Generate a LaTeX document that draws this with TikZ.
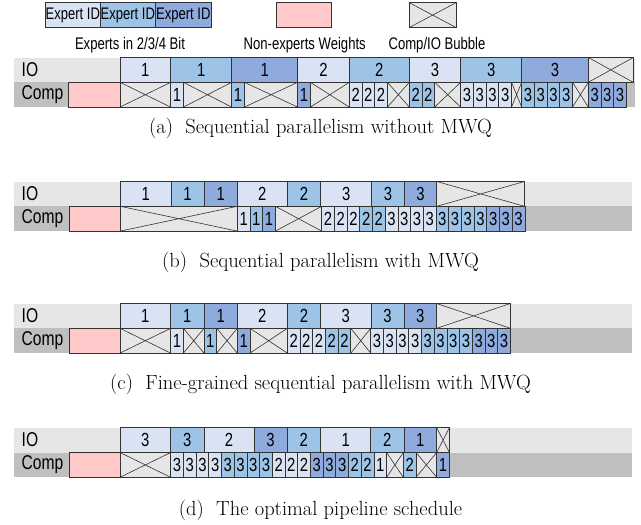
\documentclass[tikz,border=0pt]{standalone}
\usepackage{fontspec}
\newfontfamily\sansf[FakeStretch=0.78]{Liberation Sans}
\definecolor{cL}{HTML}{DAE3F3}
\definecolor{cM}{HTML}{9DC3E6}
\definecolor{cD}{HTML}{8FAADC}
\definecolor{cP}{HTML}{FFC9C9}
\definecolor{cB}{HTML}{E6E6E6}
\definecolor{bandIO}{HTML}{E6E6E6}
\definecolor{bandC}{HTML}{BFBFBF}
\tikzset{
  cell/.style={draw=black!80, line width=0.7pt, anchor=north west, inner sep=0pt, outer sep=0pt,
    minimum height=24.8pt, font=\sansf\fontsize{19}{19}\selectfont},
  lt/.style={cell, fill=cL},
  md/.style={cell, fill=cM},
  dk/.style={cell, fill=cD},
  pinkbox/.style={cell, fill=cP},
  bub/.style={cell, fill=cB, path picture={\draw[line width=0.6pt]
    (path picture bounding box.north west) -- (path picture bounding box.south east)
    (path picture bounding box.south west) -- (path picture bounding box.north east);}},
  rowlab/.style={anchor=west, inner sep=0pt, font=\sansf\fontsize{20}{20}\selectfont},
  legtext/.style={inner sep=0pt, font=\sansf\fontsize{16.8}{17}\selectfont},
  captext/.style={inner sep=0pt, font=\fontsize{20.5}{22}\selectfont},
}
\newcommand\cel[6]{\node[#2, minimum width={#4pt-#3pt}] (#1) at (#3,#5) {#6};}
\newcommand\run[6]{\foreach \k in {1,...,#4}{\node[#2, minimum width=12.7pt] (#1\k) at ({#3+(\k-1)*12.7},#6) {#5};}}
\newcommand\band[3]{%
  \fill[bandIO] (14,#1) rectangle (#3,#2);
  \fill[bandC] (14,#2) rectangle (#3,{#2+24.8});}
\begin{document}
\begin{tikzpicture}[x=1pt,y=-1pt]
\useasboundingbox (0,0) rectangle (641,525);
% legend
\cel{lg1}{lt,font=\sansf\fontsize{16.7}{17}\selectfont}{45.7}{100}{2.7}{Expert ID}
\cel{lg2}{md,font=\sansf\fontsize{16.7}{17}\selectfont}{100}{155.7}{2.7}{Expert ID}
\cel{lg3}{dk,font=\sansf\fontsize{16.7}{17}\selectfont}{155.7}{211}{2.7}{Expert ID}
\cel{lg4}{pinkbox}{276}{331.7}{2.7}{}
\cel{lg5}{bub}{409.3}{456}{2.7}{}
\node[legtext] (lt1) at (130,45) {Experts in 2/3/4 Bit};
\node[legtext] (lt2) at (304.7,45) {Non-experts Weights};
\node[legtext] (lt3) at (437,45) {Comp/IO Bubble};
% ---------- (a)
\band{57.5}{82.3}{635}
\node[rowlab] (aio) at (21.5,69.9) {IO};
\node[rowlab] (acp) at (21.5,94.7) {Comp};
\cel{aI1}{lt}{120}{170.7}{57.5}{1}
\cel{aI2}{md}{170.7}{231.7}{57.5}{1}
\cel{aI3}{dk}{231.7}{297.7}{57.5}{1}
\cel{aI4}{lt}{297.7}{349.3}{57.5}{2}
\cel{aI5}{md}{349.3}{409.3}{57.5}{2}
\cel{aI6}{lt}{409.3}{460.7}{57.5}{3}
\cel{aI7}{md}{460.7}{521.7}{57.5}{3}
\cel{aI8}{dk}{521.7}{588.3}{57.5}{3}
\cel{aI9}{bub}{588.3}{633.3}{57.5}{}
\cel{aC0}{pinkbox}{68.3}{120}{82.3}{}
\cel{aC1}{bub}{120}{170.7}{82.3}{}
\run{aCa}{lt}{170.7}{1}{1}{82.3}
\cel{aC2}{bub}{183.4}{231.7}{82.3}{}
\run{aCb}{md}{231.7}{1}{1}{82.3}
\cel{aC3}{bub}{244.4}{297.7}{82.3}{}
\run{aCc}{dk}{297.7}{1}{1}{82.3}
\cel{aC4}{bub}{310.4}{349.3}{82.3}{}
\run{aCd}{lt}{349.3}{3}{2}{82.3}
\cel{aC5}{bub}{387.4}{409.3}{82.3}{}
\run{aCe}{md}{409.3}{2}{2}{82.3}
\cel{aC6}{bub}{434.7}{460.7}{82.3}{}
\run{aCf}{lt}{460.7}{4}{3}{82.3}
\cel{aC7}{bub}{511.5}{521.7}{82.3}{}
\run{aCg}{md}{521.7}{4}{3}{82.3}
\cel{aC8}{bub}{572.5}{588.3}{82.3}{}
\run{aCh}{dk}{588.3}{3}{3}{82.3}
\node[captext] (capa) at (320.5,128) {(a)\ \ Sequential parallelism without MWQ};
% ---------- (b)
\band{181.5}{206.3}{632}
\node[rowlab] (bio) at (21.5,193.9) {IO};
\node[rowlab] (bcp) at (21.5,218.7) {Comp};
\cel{bI1}{lt}{120.3}{171}{181.5}{1}
\cel{bI2}{md}{171}{204}{181.5}{1}
\cel{bI3}{dk}{204}{237.3}{181.5}{1}
\cel{bI4}{lt}{237.3}{287.3}{181.5}{2}
\cel{bI5}{md}{287.3}{320.7}{181.5}{2}
\cel{bI6}{lt}{320.7}{371.7}{181.5}{3}
\cel{bI7}{md}{371.7}{404.3}{181.5}{3}
\cel{bI8}{dk}{404.3}{436.7}{181.5}{3}
\cel{bI9}{bub}{436.7}{524.6}{181.5}{}
\cel{bC0}{pinkbox}{69.3}{120.3}{206.3}{}
\cel{bC1}{bub}{120.3}{237.3}{206.3}{}
\run{bCa}{lt}{237.3}{1}{1}{206.3}
\run{bCb}{md}{250}{1}{1}{206.3}
\run{bCc}{dk}{262.7}{1}{1}{206.3}
\cel{bC2}{bub}{275.4}{321.7}{206.3}{}
\run{bCd}{lt}{321.7}{3}{2}{206.3}
\run{bCe}{md}{359.8}{2}{2}{206.3}
\run{bCf}{lt}{385.2}{4}{3}{206.3}
\run{bCg}{md}{436}{4}{3}{206.3}
\run{bCh}{dk}{486.8}{3}{3}{206.3}
\node[captext] (capb) at (320.5,262) {(b)\ \ Sequential parallelism with MWQ};
% ---------- (c)
\band{303.5}{328.3}{632}
\node[rowlab] (cio) at (21.5,315.9) {IO};
\node[rowlab] (ccp) at (21.5,340.7) {Comp};
\cel{cI1}{lt}{120}{170.7}{303.5}{1}
\cel{cI2}{md}{170.7}{204}{303.5}{1}
\cel{cI3}{dk}{204}{237.3}{303.5}{1}
\cel{cI4}{lt}{237.3}{287.3}{303.5}{2}
\cel{cI5}{md}{287.3}{320.7}{303.5}{2}
\cel{cI6}{lt}{320.7}{371}{303.5}{3}
\cel{cI7}{md}{371}{404}{303.5}{3}
\cel{cI8}{dk}{404}{436.7}{303.5}{3}
\cel{cI9}{bub}{436.7}{510.4}{303.5}{}
\cel{cC0}{pinkbox}{69.3}{120}{328.3}{}
\cel{cC1}{bub}{120}{170.7}{328.3}{}
\run{cCa}{lt}{170.7}{1}{1}{328.3}
\cel{cC2}{bub}{183.4}{204}{328.3}{}
\run{cCb}{md}{204}{1}{1}{328.3}
\cel{cC3}{bub}{216.7}{237.3}{328.3}{}
\run{cCc}{dk}{237.3}{1}{1}{328.3}
\cel{cC4}{bub}{250}{287.3}{328.3}{}
\run{cCd}{lt}{287.3}{3}{2}{328.3}
\run{cCe}{md}{325.4}{2}{2}{328.3}
\cel{cC5}{bub}{350.8}{370.7}{328.3}{}
\run{cCf}{lt}{370.7}{4}{3}{328.3}
\run{cCg}{md}{421.5}{4}{3}{328.3}
\run{cCh}{dk}{472.3}{3}{3}{328.3}
\node[captext] (capc) at (320.5,384) {(c)\ \ Fine-grained sequential parallelism with MWQ};
% ---------- (d)
\band{427.7}{452.5}{632}
\node[rowlab] (dio) at (21.5,440.1) {IO};
\node[rowlab] (dcp) at (21.5,464.9) {Comp};
\cel{dI1}{lt}{120}{170.7}{427.7}{3}
\cel{dI2}{md}{170.7}{204}{427.7}{3}
\cel{dI3}{lt}{204}{254}{427.7}{2}
\cel{dI4}{dk}{254}{287}{427.7}{3}
\cel{dI5}{md}{287}{320.7}{427.7}{2}
\cel{dI6}{lt}{320.7}{370.7}{427.7}{1}
\cel{dI7}{md}{370.7}{404}{427.7}{2}
\cel{dI8}{dk}{404}{436.7}{427.7}{1}
\cel{dI9}{bub}{436.7}{449.4}{427.7}{}
\cel{dC0}{pinkbox}{69}{120}{452.5}{}
\cel{dC1}{bub}{120}{170.7}{452.5}{}
\run{dCa}{lt}{170.7}{4}{3}{452.5}
\run{dCb}{md}{221.5}{4}{3}{452.5}
\run{dCc}{lt}{272.3}{3}{2}{452.5}
\run{dCd}{dk}{310.4}{3}{3}{452.5}
\run{dCe}{md}{348.5}{2}{2}{452.5}
\run{dCf}{lt}{373.9}{1}{1}{452.5}
\cel{dC2}{bub}{386.6}{403.3}{452.5}{}
\run{dCg}{md}{403.3}{1}{2}{452.5}
\cel{dC3}{bub}{416}{436.7}{452.5}{}
\run{dCh}{dk}{436.7}{1}{1}{452.5}
\node[captext] (capd) at (320.5,510) {(d)\ \ The optimal pipeline schedule};
\end{tikzpicture}
\end{document}
